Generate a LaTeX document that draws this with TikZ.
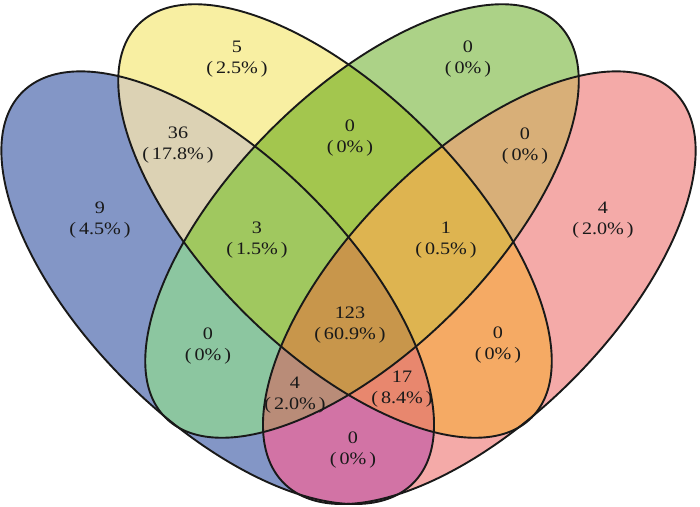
\documentclass[tikz,border=0pt]{standalone}
\usepackage{fontspec}
\setmainfont{Liberation Serif}[FakeStretch=1.15]
\definecolor{cB}{HTML}{8396C6}
\definecolor{cY}{HTML}{F8EFA2}
\definecolor{cG}{HTML}{ACD287}
\definecolor{cP}{HTML}{F4AAA8}
\definecolor{cBY}{HTML}{DCD2B4}
\definecolor{cBG}{HTML}{8CC6A0}
\definecolor{cBP}{HTML}{D273A5}
\definecolor{cYG}{HTML}{A3C64E}
\definecolor{cYP}{HTML}{F5AA64}
\definecolor{cGP}{HTML}{D8AF78}
\definecolor{cBYG}{HTML}{A0C85F}
\definecolor{cBYP}{HTML}{E8876E}
\definecolor{cBGP}{HTML}{B98C78}
\definecolor{cYGP}{HTML}{DEB450}
\definecolor{cAll}{HTML}{C8964B}
\newcommand\ellB[1]{\path[#1,rotate around={-45:(217.7,287.7)}] (217.7,287.7) ellipse [x radius=276.4pt, y radius=131pt];}
\newcommand\ellP[1]{\path[#1,rotate around={45:(479.3,287.7)}] (479.3,287.7) ellipse [x radius=276.4pt, y radius=131pt];}
\newcommand\ellY[1]{\path[#1,rotate around={-45:(335,221)}] (335,221) ellipse [x radius=278pt, y radius=129pt];}
\newcommand\ellG[1]{\path[#1,rotate around={45:(362,221)}] (362,221) ellipse [x radius=278pt, y radius=129pt];}
\begin{document}
\begin{tikzpicture}[x=1pt,y=-1pt,
  lbl/.style={align=center, inner sep=0pt, text=black!90, font=\fontsize{17.5pt}{21pt}\selectfont},
  outline/.style={draw=black!90, line width=1.9pt}]
\useasboundingbox (0,0) rectangle (700,506);
\fill[white] (0,0) rectangle (700,506);
% single sets
\ellB{fill=cB}
\ellY{fill=cY}
\ellG{fill=cG}
\ellP{fill=cP}
% pairs
\begin{scope}\ellB{clip}\ellY{fill=cBY}\end{scope}
\begin{scope}\ellB{clip}\ellG{fill=cBG}\end{scope}
\begin{scope}\ellB{clip}\ellP{fill=cBP}\end{scope}
\begin{scope}\ellY{clip}\ellG{fill=cYG}\end{scope}
\begin{scope}\ellY{clip}\ellP{fill=cYP}\end{scope}
\begin{scope}\ellG{clip}\ellP{fill=cGP}\end{scope}
% triples
\begin{scope}\ellB{clip}\ellY{clip}\ellG{fill=cBYG}\end{scope}
\begin{scope}\ellB{clip}\ellY{clip}\ellP{fill=cBYP}\end{scope}
\begin{scope}\ellB{clip}\ellG{clip}\ellP{fill=cBGP}\end{scope}
\begin{scope}\ellY{clip}\ellG{clip}\ellP{fill=cYGP}\end{scope}
% all four
\begin{scope}\ellB{clip}\ellY{clip}\ellG{clip}\ellP{fill=cAll}\end{scope}
% outlines
\ellB{outline}
\ellY{outline}
\ellG{outline}
\ellP{outline}
% labels
\node[lbl] (l1)  at (237,59)    {5\\(\,2.5\%\,)};
\node[lbl] (l2)  at (468,59)    {0\\(\,0\%\,)};
\node[lbl] (l3)  at (178,145.5) {36\\(\,17.8\%\,)};
\node[lbl] (l4)  at (350,138)   {0\\(\,0\%\,)};
\node[lbl] (l5)  at (525,146)   {0\\(\,0\%\,)};
\node[lbl] (l6)  at (100,220.5) {9\\(\,4.5\%\,)};
\node[lbl] (l7)  at (257,240)   {3\\(\,1.5\%\,)};
\node[lbl] (l8)  at (446,240)   {1\\(\,0.5\%\,)};
\node[lbl] (l9)  at (603,220.5) {4\\(\,2.0\%\,)};
\node[lbl] (l10) at (208,346)   {0\\(\,0\%\,)};
\node[lbl] (l11) at (350,325.5) {123\\(\,60.9\%\,)};
\node[lbl] (l12) at (498,345.5) {0\\(\,0\%\,)};
\node[lbl] (l13) at (295,395.5) {4\\(\,2.0\%\,)};
\node[lbl] (l14) at (402,389)   {17\\(\,8.4\%\,)};
\node[lbl] (l15) at (353,450)   {0\\(\,0\%\,)};
\end{tikzpicture}
\end{document}
